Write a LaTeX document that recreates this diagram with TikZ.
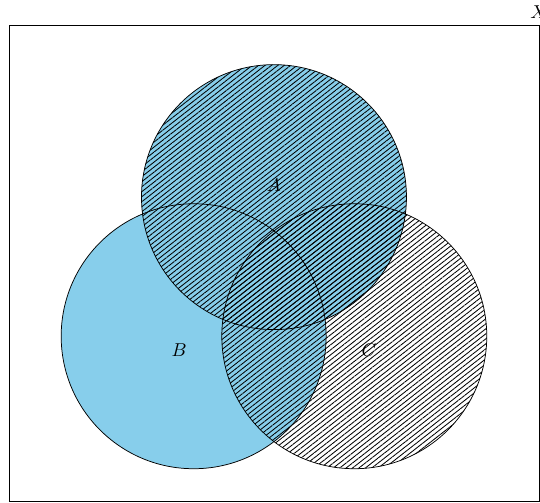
\documentclass[tikz,border=0pt]{standalone}
\usetikzlibrary{patterns.meta}
\definecolor{skyblue}{RGB}{135,206,235}
\tikzset{hatch/.style={pattern={Lines[angle=38,distance=2.12pt,line width=0.45pt]}}}
\begin{document}
\begin{tikzpicture}
\def\firstcircle{(90:1.75cm) circle (2.5cm)}
\def\secondcircle{(210:1.75cm) circle (2.5cm)}
\def\thirdcircle{(330:1.75cm) circle (2.5cm)}
\useasboundingbox (-5.17,-4.02) rectangle (5.02,5.47);
\fill[skyblue] \firstcircle;
\fill[skyblue] \secondcircle;
\fill[hatch] \firstcircle;
\fill[hatch] \thirdcircle;
\draw \firstcircle;
\draw \secondcircle;
\draw \thirdcircle;
\node (A) at (0,1.98) {$A$};
\node (B) at (-1.79,-1.13) {$B$};
\node (C) at (1.79,-1.13) {$C$};
\draw (-5,-4) rectangle (5,5) node (X) [above] {$X$};
\end{tikzpicture}
\end{document}
